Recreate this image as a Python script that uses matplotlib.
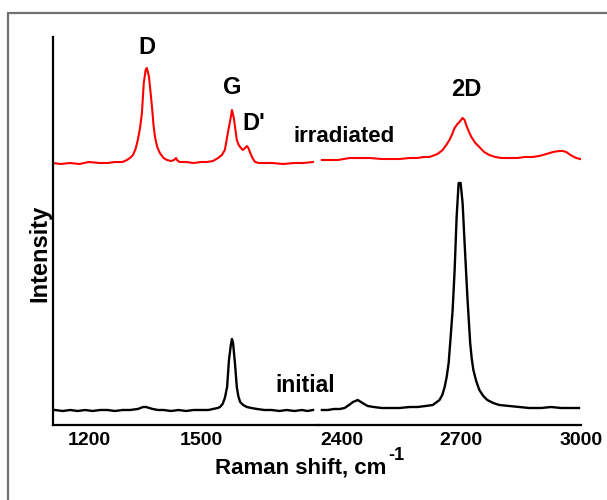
import matplotlib
matplotlib.use("Agg")
import matplotlib.pyplot as plt
from matplotlib.patches import Rectangle

plt.rcParams['font.family'] = ['Liberation Sans', 'DejaVu Sans']
plt.rcParams['font.weight'] = 'bold'

# ---------- datos (unidades arbitrarias) ----------
# inicial, tramo bajo (1100-1800 cm-1)
ini_x1 = [1109, 1130, 1150, 1170, 1190, 1210, 1230, 1250, 1270, 1290, 1310,
          1331, 1345, 1353, 1362, 1371, 1385, 1400, 1420, 1440, 1460, 1480,
          1500, 1520, 1532, 1545, 1551, 1558, 1564, 1570, 1575, 1580, 1583,
          1586, 1591, 1596, 1600, 1605, 1613, 1623, 1635, 1650, 1670, 1690,
          1710, 1730, 1750, 1770, 1785, 1800]
ini_y1 = [15, 14, 15, 14, 15, 14, 15, 15, 14, 15, 15,
          16, 18, 18, 17, 16, 15, 15, 14, 15, 14, 15,
          15, 15, 16, 17, 18, 21, 27, 38, 65, 80, 86,
          82, 62, 38, 29, 23, 20, 18, 17, 16, 15, 15,
          14, 15, 14, 15, 14, 15]
# inicial, tramo alto (2350-3000 cm-1)
ini_x2 = [2350, 2365, 2380, 2395, 2407, 2418, 2428, 2440, 2448, 2456, 2465,
          2480, 2500, 2520, 2545, 2570, 2590, 2610, 2628, 2645, 2652, 2658,
          2663, 2668, 2673, 2678, 2683, 2688, 2693, 2698, 2703, 2708, 2715,
          2722, 2726, 2730, 2737, 2745, 2755, 2765, 2780, 2795, 2820, 2845,
          2870, 2900, 2925, 2950, 2975, 2995]
ini_y2 = [15, 15, 16, 16, 17, 20, 23, 25, 23, 21, 19,
          18, 17, 17, 17, 18, 18, 19, 20, 25, 30, 38,
          48, 62, 88, 115, 155, 208, 242, 242, 222, 182, 128,
          82, 66, 55, 44, 35, 29, 25, 22, 20, 19, 18,
          17, 17, 18, 17, 17, 17]

# irradiada, tramo bajo
irr_x1 = [1104, 1125, 1150, 1175, 1200, 1229, 1250, 1270, 1290, 1302, 1310,
          1318, 1325, 1331, 1337, 1342, 1347, 1352, 1355, 1358, 1361, 1365,
          1369, 1373, 1377, 1383, 1390, 1400, 1409, 1420, 1428, 1433, 1438,
          1444, 1460, 1480, 1500, 1516, 1532, 1546, 1556, 1564, 1572, 1580,
          1583, 1588, 1592, 1596, 1601, 1607, 1612, 1618, 1623, 1627, 1631,
          1638, 1645, 1655, 1666, 1690, 1720, 1750, 1775, 1800]
irr_y1 = [262, 261, 262, 261, 263, 262, 262, 263, 263, 265, 267,
          270, 276, 285, 297, 312, 342, 355, 357, 353, 348, 333,
          318, 300, 288, 278, 272, 267, 265, 264, 265, 267, 264,
          263, 263, 262, 263, 263, 264, 267, 270, 275, 292, 308,
          315, 307, 296, 285, 280, 277, 275, 277, 279, 277, 273,
          267, 263, 262, 262, 262, 261, 262, 262, 263]
# irradiada, tramo alto
irr_x2 = [2350, 2370, 2390, 2405, 2420, 2445, 2470, 2500, 2545, 2570, 2590,
          2605, 2620, 2640, 2653, 2662, 2670, 2677, 2683, 2690, 2695, 2703,
          2708, 2712, 2718, 2725, 2735, 2745, 2757, 2770, 2785, 2800, 2820,
          2840, 2860, 2878, 2895, 2913, 2930, 2945, 2955, 2963, 2970, 2978,
          2988, 2998]
irr_y2 = [265, 265, 265, 266, 267, 267, 267, 266, 266, 267, 267,
          268, 268, 271, 275, 280, 285, 291, 297, 301, 303, 307,
          305, 300, 294, 288, 282, 278, 273, 270, 268, 267, 267,
          267, 268, 268, 269, 271, 273, 274, 274, 273, 271, 269,
          267, 266]

ticks_izq = [1200, 1500]
ticks_der = [2400, 2700, 3000]

ROJO = "#ff0000"
NEGRO = "#000000"

# ---------- figura ----------
fig = plt.figure(figsize=(6.07, 5.0), dpi=100)

# marco gris (captura recortada)
fig.patches.append(Rectangle((8/607, -0.05), 1.2, 1 - 13/500 + 0.05,
                             transform=fig.transFigure, fill=False,
                             edgecolor="#707070", linewidth=1.6))

ax1 = fig.add_axes([53/607, 75/500, 264.5/607, 388/500])
ax2 = fig.add_axes([317.5/607, 75/500, 263.5/607, 388/500])

for ax in (ax1, ax2):
    ax.set_ylim(0, 388)
    ax.patch.set_alpha(0)
    ax.spines['top'].set_visible(False)
    ax.spines['right'].set_visible(False)
    ax.spines['bottom'].set_linewidth(1.6)
    ax.tick_params(axis='x', length=0, pad=5, labelsize=14)
    ax.set_yticks([])
ax1.spines['left'].set_linewidth(1.6)
ax2.spines['left'].set_visible(False)

ax1.set_xlim(1104, 1812)
ax2.set_xlim(2339, 3000)
ax1.set_xticks(ticks_izq)
ax2.set_xticks(ticks_der)

ax1.plot(ini_x1, ini_y1, color=NEGRO, lw=1.7)
ax2.plot(ini_x2, ini_y2, color=NEGRO, lw=1.7)
ax1.plot(irr_x1, irr_y1, color=ROJO, lw=1.5)
ax2.plot(irr_x2, irr_y2, color=ROJO, lw=1.5)

# etiquetas de picos
ax1.text(1355, 378, "D", fontsize=17, ha='center', va='center')
ax1.text(1583, 337, "G", fontsize=17, ha='center', va='center')
ax1.text(1642, 302, "D'", fontsize=17, ha='center', va='center')
ax2.text(2712, 335, "2D", fontsize=17, ha='center', va='center')
ax2.text(2405, 288, "irradiated", fontsize=16, ha='center', va='center', clip_on=False)
ax1.text(1779, 39, "initial", fontsize=16.5, ha='center', va='center', clip_on=False)

fig.text(215/607, 1 - 468/500, "Raman shift, cm", fontsize=16,
         ha='left', va='center')
fig.text(388/607, 1 - 455/500, "-1", fontsize=13,
         ha='left', va='center')
fig.text(40/607, 1 - 253/500, "Intensity", fontsize=17, rotation=90,
         ha='center', va='center')

fig.savefig("out.png", dpi=100)
